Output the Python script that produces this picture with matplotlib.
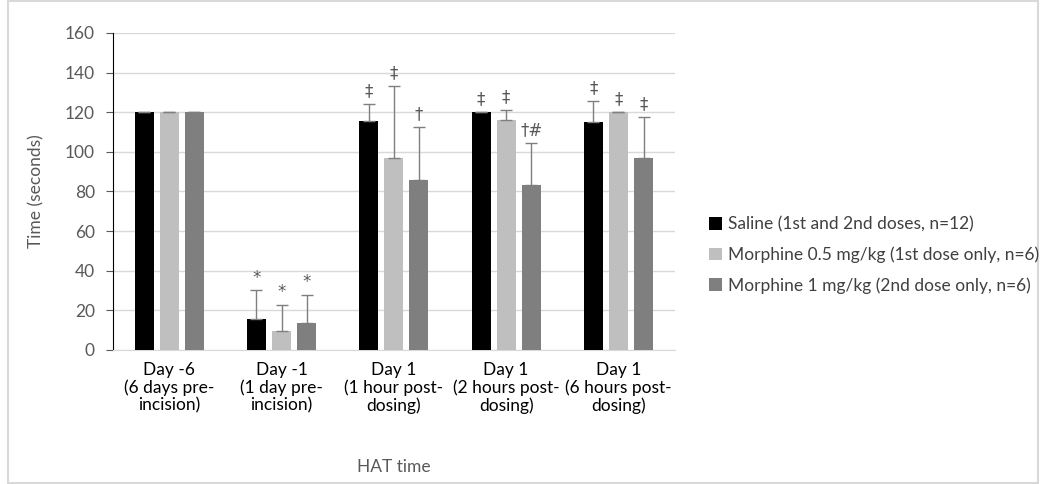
import matplotlib
matplotlib.use("Agg")
import matplotlib.pyplot as plt
import numpy as np
from matplotlib.patches import Rectangle

categories = ["Day -6\n(6 days pre-\nincision)", "Day -1\n(1 day pre-\nincision)",
              "Day 1\n(1 hour post-\ndosing)", "Day 1\n(2 hours post-\ndosing)",
              "Day 1\n(6 hours post-\ndosing)"]
series = ["Saline (1st and 2nd doses, n=12)",
          "Morphine 0.5 mg/kg (1st dose only, n=6)",
          "Morphine 1 mg/kg (2nd dose only, n=6)"]
saline = [120, 15.5, 115.5, 120, 115]
saline_err = [0, 14.5, 8.5, 0, 10.5]
morph05 = [120, 9.5, 97, 116, 120]
morph05_err = [0, 13, 36, 5, 0]
morph1 = [120, 13.5, 86, 83, 97]
morph1_err = [0, 14, 26.5, 21.5, 20.5]
saline_ann = ["", "*", "‡", "‡", "‡"]
morph05_ann = ["", "*", "‡", "‡", "‡"]
morph1_ann = ["", "*", "†", "†#", "‡"]

colors = ["#000000", "#bfbfbf", "#7f7f7f"]
plt.rcParams['font.family'] = ['Lato', 'DejaVu Sans']

fig = plt.figure(figsize=(10.4, 4.84), dpi=100)
ax = fig.add_axes([0.1087, 0.277, 0.54, 0.655])

x = np.arange(len(categories))
w = 0.17
step = 0.223
vals = [saline, morph05, morph1]
errs = [saline_err, morph05_err, morph1_err]
anns = [saline_ann, morph05_ann, morph1_ann]
for i in range(3):
    pos = x + (i - 1) * step
    ax.bar(pos, vals[i], width=w, color=colors[i], label=series[i], zorder=3)
    e = np.array(errs[i])
    ax.errorbar(pos, vals[i], yerr=[np.zeros_like(e), e], fmt='none',
                ecolor="#7f7f7f", elinewidth=1, capsize=4, capthick=1, zorder=4)
    for p, v, er, a in zip(pos, vals[i], errs[i], anns[i]):
        if a:
            ax.text(p, v + er + 2, a, ha='center', va='bottom', fontsize=12,
                    color="#595959", family=['DejaVu Sans'])

ax.set_xlim(-0.5, len(categories) - 0.5)
ax.set_ylim(0, 160)
ax.set_yticks(np.arange(0, 161, 20))
ax.yaxis.grid(True, color="#d9d9d9", linewidth=1, zorder=0)
ax.set_axisbelow(True)
ax.set_xticks(x)
ax.set_xticklabels(categories, fontsize=12.5, color="#000000", linespacing=1.1)
ax.tick_params(axis='x', length=0, pad=9)
ax.tick_params(axis='y', length=5, color="#595959", labelsize=12.5, labelcolor="#595959", pad=8)
for s in ['top', 'right']:
    ax.spines[s].set_visible(False)
ax.spines['left'].set_color("#000000")
ax.spines['bottom'].set_color("#d9d9d9")
ax.set_ylabel("Time (seconds)", fontsize=12.5, color="#595959", labelpad=15)
ax.set_xlabel("HAT time", fontsize=12.5, color="#595959", labelpad=32)

leg = fig.legend(loc='upper left', bbox_to_anchor=(0.667, 0.585), frameon=False,
                 fontsize=12.5, handlelength=0.75, handleheight=0.75, handletextpad=0.35,
                 labelspacing=0.8, labelcolor="#404040")

fig.add_artist(Rectangle((0.008, 0.002), 0.99, 0.996, transform=fig.transFigure,
                         fill=False, edgecolor="#d9d9d9", linewidth=1.5))
fig.savefig("out.png", dpi=100)
